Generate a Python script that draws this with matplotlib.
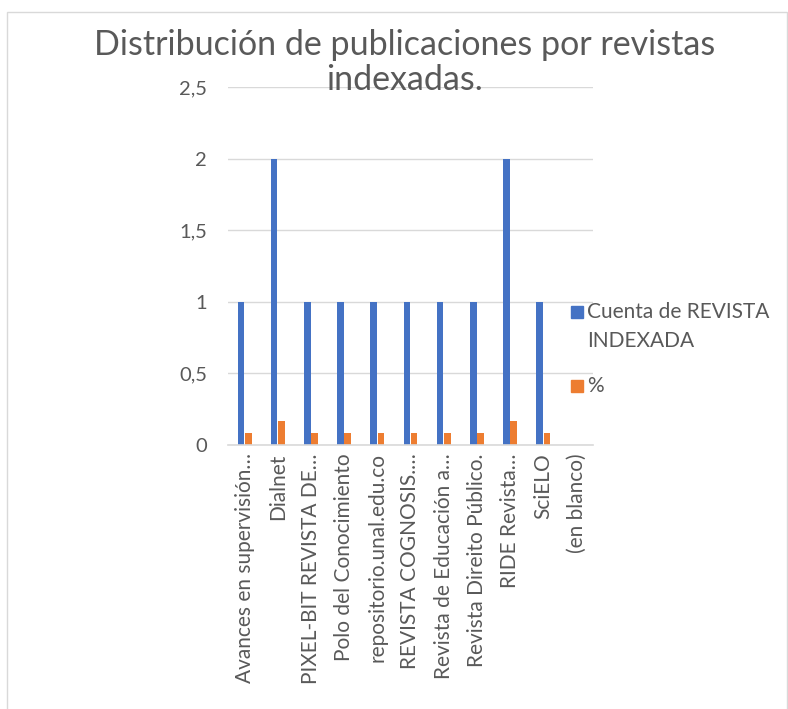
import matplotlib.pyplot as plt
import matplotlib.patches as mpatches
from matplotlib.ticker import FuncFormatter
import numpy as np

plt.rcParams['font.family'] = ['Lato', 'DejaVu Sans']

revistas = ['Avances en supervisión…', 'Dialnet', 'PIXEL-BIT REVISTA DE…',
            'Polo del Conocimiento', 'repositorio.unal.edu.co', 'REVISTA COGNOSIS.…',
            'Revista de Educación a…', 'Revista Direito Público.', 'RIDE Revista…',
            'SciELO', '(en blanco)']
cuenta = [1, 2, 1, 1, 1, 1, 1, 1, 2, 1, 0]
porcentaje = [0.083, 0.167, 0.083, 0.083, 0.083, 0.083, 0.083, 0.083, 0.167, 0.083, 0]

azul = '#4472c4'
naranja = '#ed7d31'
gris = '#595959'

fig = plt.figure(figsize=(7.88, 7.09), dpi=100)
ax = fig.add_axes([228/788, 1 - 445/709, 365/788, 358/709])

x = np.arange(len(revistas))
w = 0.2
ax.bar(x - w/2 - 0.01, cuenta, w, color=azul, label='Cuenta de REVISTA\nINDEXADA')
ax.bar(x + w/2 + 0.01, porcentaje, w, color=naranja, label='%')

ax.set_xlim(-0.5, len(revistas) - 0.5)
ax.set_ylim(0, 2.5)
ax.set_yticks([0, 0.5, 1, 1.5, 2, 2.5])
ax.yaxis.set_major_formatter(FuncFormatter(lambda v, p: ('%g' % v).replace('.', ',')))
ax.set_xticks(x)
ax.set_xticklabels(revistas, rotation=90, fontsize=15, color=gris)
ax.tick_params(axis='y', labelsize=14.5, labelcolor=gris, length=0, pad=15)
ax.tick_params(axis='x', length=0, pad=6)
ax.grid(axis='y', color='#d9d9d9', linewidth=1)
ax.set_axisbelow(True)
for s in ['top', 'right', 'left']:
    ax.spines[s].set_visible(False)
ax.spines['bottom'].set_color('#d9d9d9')
ax.spines['bottom'].set_linewidth(1.2)

fig.text(405/788, 1 - 45/709, 'Distribución de publicaciones por revistas', ha='center', va='center',
         fontsize=24.5, color=gris)
fig.text(405/788, 1 - 80/709, 'indexadas.', ha='center', va='center', fontsize=24.5, color=gris)

# leyenda a mano, como en Excel
fig.patches.append(mpatches.Rectangle((571/788, 1 - 318/709), 12/788, 12/709,
                                      transform=fig.transFigure, color=azul))
fig.text(587/788, 1 - 312/709, 'Cuenta de REVISTA', va='center', fontsize=15, color=gris)
fig.text(587/788, 1 - 341/709, 'INDEXADA', va='center', fontsize=15, color=gris)
fig.patches.append(mpatches.Rectangle((571/788, 1 - 392/709), 12/788, 12/709,
                                      transform=fig.transFigure, color=naranja))
fig.text(587/788, 1 - 386/709, '%', va='center', fontsize=15, color=gris)

# marco del gráfico
fig.patches.append(mpatches.Rectangle((7/788, -0.05), 0.99, 1 - 12/709 + 0.05,
                                      transform=fig.transFigure, fill=False,
                                      edgecolor='#d9d9d9', linewidth=1))

fig.savefig('out.png', dpi=100)
